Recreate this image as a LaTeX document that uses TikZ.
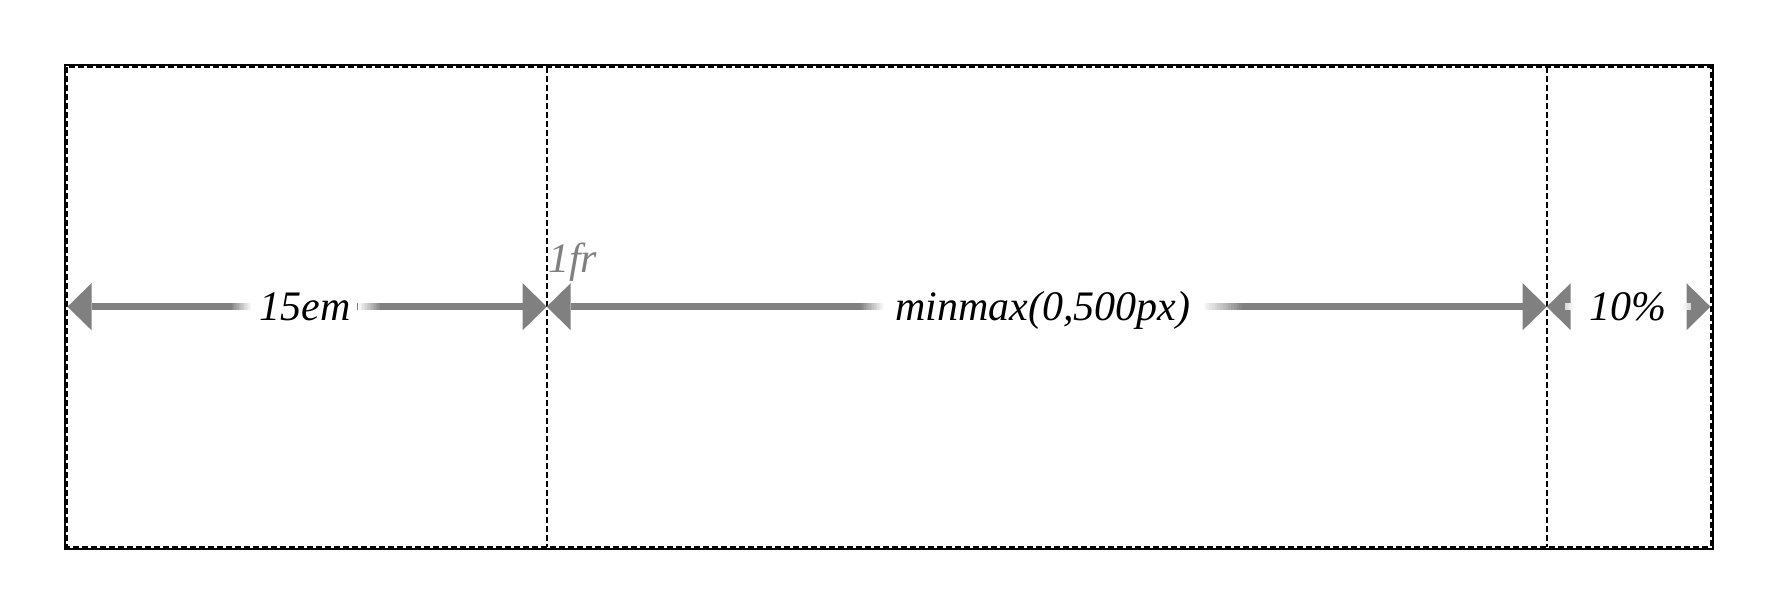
\documentclass[tikz,border=0pt]{standalone}
\usepackage{fontspec}
\setmainfont{Liberation Serif}
\usetikzlibrary{arrows.meta,calc}
\definecolor{dimgray}{HTML}{808080}
\tikzset{
  outerbox/.style={draw=black, line width=2pt},
  cellline/.style={draw=black, line width=1.6pt, dash pattern=on 6pt off 3pt},
  dimline/.style={draw=dimgray, line width=6.5pt,
     {Triangle[length=24pt,width=47pt,line width=0pt]}-{Triangle[length=24pt,width=47pt,line width=0pt]}},
  lab/.style={anchor=base, fill=white, inner ysep=2pt, inner xsep=#1,
     font=\itshape\fontsize{42}{50}\selectfont, text=black},
  lab/.default=7pt,
  frlab/.style={anchor=base west, inner sep=0pt,
     font=\itshape\fontsize{42}{50}\selectfont, text=dimgray},
}
% #1 left point, #2 width, #3 gray percentage at left, #4 at right
\newcommand\dimfade[4]{%
  \foreach \k [evaluate=\k as \p using {#3+(#4-#3)*\k/15}] in {0,...,15}
    {\fill[dimgray!\p!white] ($(#1)+({#2*\k/16},-3.3)$) rectangle ++({#2/16+0.3},6.6);}%
}
\begin{document}
\begin{tikzpicture}[x=1pt,y=1pt]
\useasboundingbox (0,0) rectangle (1778,-614);
% container and grid cells
\coordinate (TL) at (65,-65);
\coordinate (BR) at (1713,-548.7);
\coordinate (cTL) at (67,-67);
\coordinate (cBR) at (1711,-546.7);
\coordinate (d1t) at (546.7,-67);
\coordinate (d1b) at (546.7,-546.7);
\coordinate (d2t) at (1546.7,-67);
\coordinate (d2b) at (1546.7,-546.7);
\draw[cellline] (cTL) rectangle (cBR);
\draw[cellline] (d1t) -- (d1b);
\draw[cellline] (d2t) -- (d2b);
\draw[outerbox] (TL) rectangle (BR);
% dimension ends
\coordinate (L) at (67.5,-306.7);
\coordinate (D1) at (546.7,-306.7);
\coordinate (D2) at (1546.7,-306.7);
\coordinate (R) at (1710.5,-306.7);
\draw[dimline] (L) -- (D1);
\draw[dimline] (D1) -- (D2);
\draw[dimline] (D2) -- (R);
% labels
\node[lab=7pt] (l1) at (305,-320) {15em};
\node[lab=10pt] (l2) at (1043,-320) {minmax(0,500px)};
\node[lab=15pt] (l3) at (1628,-320) {10\%};
\node[frlab] (fr) at (548,-272) {1fr};
% fades of the dimension lines next to the labels
\coordinate (f1a) at ($(l1.west |- D1)+(-22,0)$);
\coordinate (f1b) at (l1.east |- D1);
\coordinate (f2a) at ($(l2.west |- D1)+(-26,0)$);
\coordinate (f2b) at (l2.east |- D1);
\coordinate (f3a) at ($(l3.west |- D2)+(-9,0)$);
\coordinate (f3b) at (l3.east |- D2);
\dimfade{f1a}{22}{100}{0}
\dimfade{f1b}{24}{0}{100}
\dimfade{f2a}{26}{100}{0}
\dimfade{f2b}{44}{0}{100}
\dimfade{f3a}{9}{30}{0}
\dimfade{f3b}{9}{0}{30}
\end{tikzpicture}
\end{document}
